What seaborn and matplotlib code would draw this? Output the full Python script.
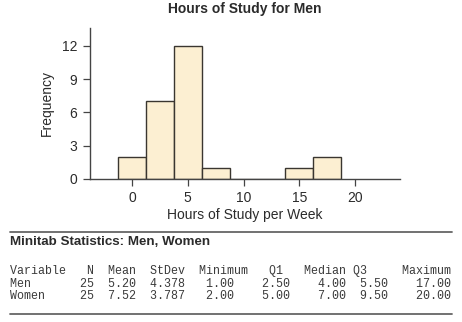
import matplotlib
matplotlib.use("Agg")
import matplotlib.pyplot as plt
from matplotlib.lines import Line2D
import numpy as np
import pandas as pd
import seaborn as sns

# Histogram of weekly study hours (men)
bin_centers = [0, 2.5, 5, 7.5, 10, 12.5, 15, 17.5]
frequencies = [2, 7, 12, 1, 0, 0, 1, 2]
bin_width = 2.5
x_ticks = [0, 5, 10, 15, 20]
y_ticks = [0, 3, 6, 9, 12]

# Descriptive statistics table
stat_headers = ["Variable", "N", "Mean", "StDev", "Minimum", "Q1", "Median", "Q3", "Maximum"]
stat_variables = ["Men", "Women"]
stat_n = ["25", "25"]
stat_mean = ["5.20", "7.52"]
stat_stdev = ["4.378", "3.787"]
stat_min = ["1.00", "2.00"]
stat_q1 = ["2.50", "5.00"]
stat_median = ["4.00", "7.00"]
stat_q3 = ["5.50", "9.50"]
stat_max = ["17.00", "20.00"]

sns.set_theme(style="ticks")
plt.rcParams["font.family"] = ["Liberation Sans", "DejaVu Sans"]

W, H = 462, 322
fig = plt.figure(figsize=(W / 100, H / 100), dpi=100)
fig.patch.set_facecolor("white")

ink = "#2b2b2b"

ax = fig.add_axes([90 / W, 1 - 179 / H, 310 / W, 151 / H])
df = pd.DataFrame({"hours": bin_centers, "count": frequencies})
edges = [c - bin_width / 2 for c in bin_centers] + [bin_centers[-1] + bin_width / 2]
sns.histplot(data=df, x="hours", weights="count", bins=edges, ax=ax,
             color="#fcefd2", alpha=1, edgecolor="#3a3630", linewidth=1.0)

ax.set_xlim(-3.75, 24)
ax.set_ylim(0, 13.6)
ax.set_xticks(x_ticks)
ax.set_yticks(y_ticks)
for side in ("top", "right"):
    ax.spines[side].set_visible(False)
for side in ("left", "bottom"):
    ax.spines[side].set_color("#444444")
    ax.spines[side].set_linewidth(1.0)
ax.tick_params(axis="both", length=5, width=0.9, color="#444444",
               labelsize=10, labelcolor=ink, pad=4)
ax.set_xlabel("Hours of Study per Week", fontsize=10, color=ink, labelpad=2)
ax.set_ylabel("Frequency", fontsize=10, color=ink, labelpad=6)
ax.set_facecolor("white")

fig.text(245 / W, 1 - 9 / H, "Hours of Study for Men", ha="center", va="center",
         fontsize=10, fontweight="bold", color=ink)

# Statistics panel
for yy in (232, 314):
    fig.add_artist(Line2D([10 / W, 452 / W], [1 - yy / H, 1 - yy / H],
                          transform=fig.transFigure, color="#666666", lw=1.3))
fig.text(10 / W, 1 - 242 / H, "Minitab Statistics: Men, Women", ha="left", va="center",
         fontsize=9.6, fontweight="bold", color=ink)

header_ends = [None, 12, 18, 25, 34, 39, 48, 51, 63]
value_ends = [None, 12, 18, 25, 32, 40, 48, 54, 63]


def build_line(cells, ends):
    buf = [" "] * 63
    for txt, end in zip(cells, ends):
        start = 0 if end is None else end - len(txt)
        for k, ch in enumerate(txt):
            buf[start + k] = ch
    return "".join(buf).rstrip()


lines = [build_line(stat_headers, header_ends)]
for i in range(len(stat_variables)):
    row = [stat_variables[i], stat_n[i], stat_mean[i], stat_stdev[i], stat_min[i],
           stat_q1[i], stat_median[i], stat_q3[i], stat_max[i]]
    lines.append(build_line(row, value_ends))

for line, yy in zip(lines, (271, 284, 296)):
    fig.text(10 / W, 1 - yy / H, line, ha="left", va="center",
             fontsize=8.4, family="Liberation Mono", color="#3a3a3a")

fig.savefig("out.png", dpi=100)
